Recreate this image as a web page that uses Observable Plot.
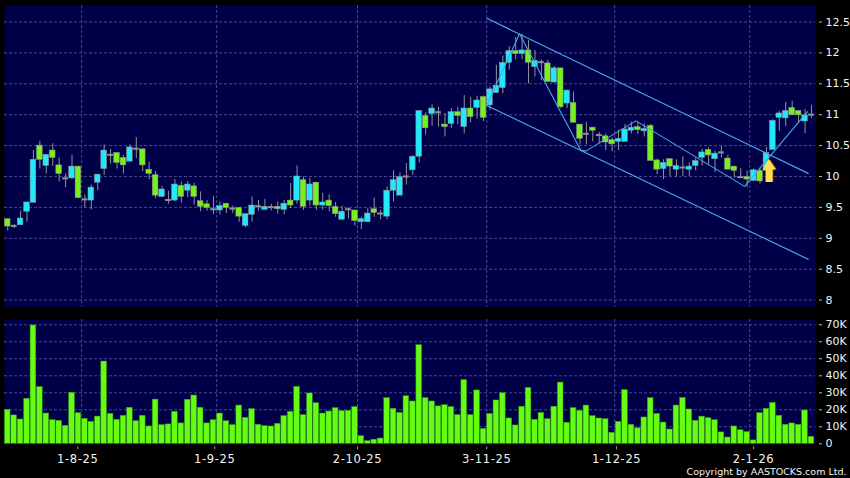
<!DOCTYPE html>
<html>
<head>
<meta charset="utf-8">
<style>
html,body{margin:0;padding:0;background:#000;overflow:hidden}
svg{display:block}
[aria-label="x-axis tick label"] text{letter-spacing:.65px}
</style>
<script src="https://cdn.jsdelivr.net/npm/d3@7"></script>
<script src="https://cdn.jsdelivr.net/npm/@observablehq/plot@0.6"></script>
</head>
<body>
<div id="chart"></div>
<script>
const opens = [
9.31,9.20,9.21,9.43,9.575,10.50,10.17,10.42,10.18,9.97,
9.97,10.16,9.63,9.61,9.90,10.12,10.35,10.38,10.30,10.24,
10.45,10.44,10.11,10.02,9.67,9.62,9.61,9.85,9.77,9.84,
9.60,9.55,9.47,9.45,9.56,9.48,9.49,9.20,9.38,9.52,
9.46,9.505,9.51,9.46,9.61,9.61,9.94,9.61,9.90,9.53,
9.61,9.51,9.30,9.47,9.45,9.26,9.26,9.47,9.40,9.35,
9.77,9.69,10.00,10.10,10.32,10.98,11.01,11.04,10.84,10.85,
11.04,10.80,11.10,11.11,11.285,11.15,11.35,11.43,11.84,12.03,
11.98,12.04,11.77,11.85,11.83,11.52,11.75,11.18,11.19,10.84,
10.69,10.79,10.67,10.65,10.59,10.56,10.56,10.74,10.80,10.73,
10.82,10.26,10.12,10.28,10.11,10.145,10.11,10.17,10.30,10.43,
10.28,10.39,10.29,10.16,9.99,9.99,9.93,10.09,10.09,10.43,
10.95,10.94,11.11,11.06,10.89,11.00];
const closes = [
9.19,9.20,9.32,9.58,10.27,10.27,10.35,10.30,10.04,9.97,
10.16,9.65,9.63,9.82,10.03,10.42,10.35,10.22,10.18,10.47,
10.45,10.18,10.04,9.69,9.79,9.62,9.87,9.67,9.87,9.67,
9.51,9.49,9.47,9.52,9.49,9.48,9.35,9.39,9.53,9.52,
9.51,9.505,9.47,9.56,9.53,10.00,9.51,9.87,9.53,9.58,
9.52,9.39,9.43,9.47,9.28,9.31,9.40,9.41,9.40,9.77,
9.94,9.99,10.00,10.32,11.06,10.78,11.10,11.04,10.80,11.04,
10.98,11.10,10.96,11.23,10.95,11.41,11.47,11.84,12.03,11.98,
12.04,11.84,11.87,11.85,11.53,11.75,11.12,11.39,10.87,10.61,
10.69,10.74,10.67,10.55,10.52,10.61,10.76,10.79,10.75,10.77,
10.25,10.11,10.22,10.16,10.17,10.145,10.16,10.25,10.39,10.34,
10.37,10.39,10.11,10.09,9.99,9.95,10.10,9.92,10.38,10.90,
11.02,11.06,10.99,10.99,10.99,11.00];
const highs = [
9.31,9.22,9.44,9.58,10.42,10.57,10.35,10.53,10.30,10.04,
10.34,10.16,9.70,9.86,10.03,10.51,10.44,10.38,10.34,10.51,
10.63,10.44,10.23,10.08,9.84,9.76,9.95,9.91,9.92,9.89,
9.75,9.61,9.68,9.59,9.56,9.52,9.49,9.39,9.67,9.61,
9.63,9.55,9.59,9.61,9.89,10.17,9.99,9.97,9.90,9.73,
9.70,9.58,9.52,9.49,9.45,9.34,9.48,9.65,9.45,9.83,
10.09,10.06,10.21,10.34,11.06,11.03,11.16,11.12,11.02,11.10,
11.12,11.31,11.28,11.30,11.30,11.45,11.80,11.95,12.10,12.25,
12.30,12.20,12.04,11.89,11.88,11.78,11.75,11.40,11.37,10.84,
10.88,10.79,10.71,10.69,10.62,10.75,10.84,10.88,10.88,10.85,
10.84,10.28,10.27,10.28,10.27,10.32,10.22,10.30,10.44,10.46,
10.41,10.49,10.34,10.16,10.13,10.09,10.12,10.14,10.47,10.92,
11.05,11.20,11.22,11.06,11.08,11.15];
const lows = [
9.12,9.16,9.21,9.26,9.575,10.12,10.04,10.16,9.91,9.82,
9.95,9.64,9.49,9.46,9.77,10.02,10.20,10.12,10.04,10.24,
10.29,10.08,9.95,9.64,9.66,9.55,9.59,9.57,9.66,9.54,
9.43,9.44,9.38,9.38,9.40,9.40,9.26,9.17,9.26,9.44,
9.46,9.44,9.39,9.38,9.48,9.55,9.45,9.52,9.45,9.45,
9.43,9.34,9.30,9.31,9.20,9.14,9.26,9.34,9.30,9.30,
9.59,9.69,9.86,10.02,10.22,10.67,10.81,10.80,10.64,10.78,
10.84,10.69,10.87,10.93,10.89,11.07,11.35,11.34,11.72,11.89,
11.89,11.50,11.61,11.55,11.53,11.52,11.10,11.10,10.87,10.51,
10.51,10.56,10.53,10.42,10.40,10.42,10.56,10.69,10.68,10.64,
10.25,10.03,9.95,10.00,9.99,10.00,10.00,10.09,10.17,10.19,
10.06,10.30,10.11,9.97,9.99,9.82,9.92,9.88,9.95,10.43,
10.73,10.81,10.99,10.87,10.69,10.94];
const volumes = [
20,16.7,14.3,26.5,69.6,33.3,17.8,13.9,13.5,10.6,
30,18,14.7,12.9,16,48.4,17.6,14.1,16.5,21.2,
13.3,16.5,10.2,26,11,11.4,18.8,12,25.9,28.4,
21.2,12,13.9,17.8,13.3,11,22.5,15.3,20.4,11.2,
10.4,10.2,11.8,16.3,18.8,33.5,16.9,29.6,23.9,17.8,
19,21,19.2,19.4,21.6,4.5,1.6,2.4,3.1,26.9,
20.6,18.2,28,24.9,58,26.9,24.9,22,22.7,21.6,
16.9,37.5,16.9,31.4,8.8,17.6,25.5,29.8,14.9,10.8,
21.8,32.9,14.1,18.2,14.5,21.8,36,12.4,21,19.4,
22.5,16.3,14.9,14.5,6.5,12.9,31.6,11.2,9.2,15.5,
26.9,17.6,12.5,8.4,22.5,27,20.2,13.5,16,15.1,
13.9,6.7,3.7,10.2,8,6.9,2,18,20.6,24.1,
16.5,11.2,12,11.2,19.6,4.1];

const priceTicks = [8,8.5,9,9.5,10,10.5,11,11.5,12,12.5];
const volumeTicks = [0,10,20,30,40,50,60,70];
const gridSessions = [11.5,32.5,54.4,74.5,94.4,115.4];
const tickSessions = [10.9,32.2,54.4,74.5,94.7,116];
const tickLabels = ["1-8-25","1-9-25","2-10-25","3-11-25","1-12-25","2-1-26"];

const upperChannel = [[74.5,12.56],[124.5,10.05]];
const lowerChannel = [[74.5,11.15],[124.5,8.66]];
const zigzag = [[74.5,11.15],[79.6,12.31],[89.1,10.43],[89.9,10.41],[97.7,10.90],[114.6,9.84],[124.4,11.05]];
const signal = [[118.4,10.1]];

const navy = "#000048", gridColor = "#47478a", grey = "#929292";
const cyan = "#22e8f8", lime = "#78f01c", lineBlue = "#4aa8e4", labelColor = "#f4f4f4";
const xDomain = [-0.5,125.63];
const font = "'DejaVu Sans', sans-serif";

const candles = opens.map((o,i)=>({i,o,c:closes[i],h:highs[i],l:lows[i]}));
const up = candles.filter(d=>d.c>d.o);
const down = candles.filter(d=>d.c<d.o);
const flat = candles.filter(d=>d.c===d.o);
const hw = 0.44;

function arrowShape(dx,dy,k){
  return {draw(ctx){
    ctx.moveTo(dx,-11+dy);
    ctx.lineTo(7*k+dx,-0.7+dy);
    ctx.lineTo(3.5*k+dx,-0.7+dy);
    ctx.lineTo(3.5*k+dx,11.7+dy);
    ctx.lineTo(-3.5*k+dx,11.7+dy);
    ctx.lineTo(-3.5*k+dx,-0.7+dy);
    ctx.lineTo(-7*k+dx,-0.7+dy);
    ctx.closePath();
  }};
}

const price = Plot.plot({
  width:850,height:319,marginLeft:4,marginRight:35,marginTop:5,marginBottom:12.5,
  style:{background:"#000",fontFamily:font,display:"block"},
  x:{type:"linear",domain:xDomain,axis:null},
  y:{type:"linear",domain:[7.888,12.767],axis:null},
  marks:[
    Plot.frame({fill:navy,stroke:"none"}),
    Plot.ruleY(priceTicks,{stroke:gridColor,strokeDasharray:"3 2"}),
    Plot.ruleX(gridSessions,{stroke:gridColor,strokeDasharray:"3 2"}),
    Plot.ruleX(candles,{x:"i",y1:"l",y2:"h",stroke:grey}),
    Plot.rect(up,{x1:d=>d.i-hw,x2:d=>d.i+hw,y1:"o",y2:"c",fill:cyan,stroke:grey,strokeWidth:0.5}),
    Plot.rect(down,{x1:d=>d.i-hw,x2:d=>d.i+hw,y1:"o",y2:"c",fill:lime,stroke:grey,strokeWidth:0.5}),
    Plot.ruleY(flat,{x1:d=>d.i-0.45,x2:d=>d.i+0.45,y:"o",stroke:grey,strokeWidth:2}),
    Plot.line(upperChannel,{x:"0",y:"1",stroke:lineBlue,strokeWidth:1.2}),
    Plot.line(lowerChannel,{x:"0",y:"1",stroke:lineBlue,strokeWidth:1.2}),
    Plot.line(zigzag,{x:"0",y:"1",stroke:lineBlue,strokeWidth:1.1}),
    Plot.dot(signal,{x:"0",y:"1",r:8,symbol:arrowShape(0.7,0,1),fill:"#e8920c",stroke:"none"}),
    Plot.dot(signal,{x:"0",y:"1",r:8,symbol:arrowShape(-0.2,0,0.92),fill:"#ffdf55",stroke:"none"}),
    Plot.axisY({anchor:"right",ticks:priceTicks,tickSize:3,tickPadding:4,dx:3,
      stroke:"#bbbbbb",fill:labelColor,fontSize:11,tickFormat:d=>String(d)})
  ]
});

const volume = Plot.plot({
  width:850,height:159,marginLeft:4,marginRight:35,marginTop:0,marginBottom:34.7,
  style:{background:"#000",fontFamily:font,display:"block"},
  x:{type:"linear",domain:xDomain,axis:null},
  y:{type:"linear",domain:[0,73.1],axis:null},
  marks:[
    Plot.frame({fill:navy,stroke:"none"}),
    Plot.ruleY(volumeTicks.slice(1),{stroke:gridColor,strokeDasharray:"3 2"}),
    Plot.ruleX(gridSessions,{stroke:gridColor,strokeDasharray:"3 2"}),
    Plot.rect(volumes,{x1:(d,i)=>i-0.44,x2:(d,i)=>i+0.44,y1:0,y2:d=>d,fill:"#66fb12",stroke:"#2f9a12",strokeWidth:0.5}),
    Plot.axisY({anchor:"right",ticks:volumeTicks,tickSize:3,tickPadding:4,dx:3,
      stroke:"#bbbbbb",fill:labelColor,fontSize:11,tickFormat:d=>d===0?"0":d+"K"}),
    Plot.axisX({anchor:"bottom",ticks:tickSessions,tickSize:3,tickPadding:5,dy:3,
      stroke:"#999999",fill:labelColor,fontSize:11.5,
      tickFormat:(d)=>tickLabels[tickSessions.indexOf(d)]}),
    Plot.text(["Copyright by AASTOCKS.com Ltd."],{frameAnchor:"bottom-right",dx:31,dy:31,
      textAnchor:"end",fill:labelColor,fontSize:9.5})
  ]
});

const root = document.getElementById("chart");
root.append(price,volume);
</script>
</body>
</html>
